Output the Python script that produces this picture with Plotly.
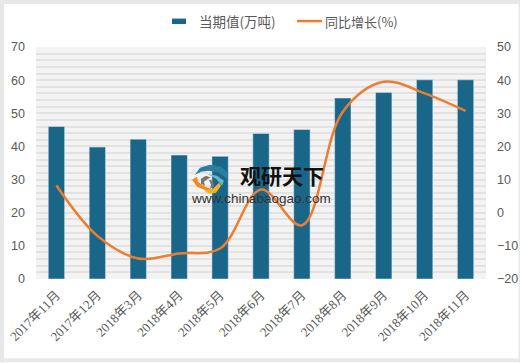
import plotly.graph_objects as go

categories = ["2017年11月", "2017年12月", "2018年3月", "2018年4月", "2018年5月", "2018年6月",
              "2018年7月", "2018年8月", "2018年9月", "2018年10月", "2018年11月"]
current_values = [46, 39.8, 42.2, 37.4, 37, 43.9, 45.1, 54.6, 56.3, 60.1, 60.1]
yoy_growth = [8.2, -7, -13.8, -12.3, -10.8, 7, -3.8, 30.5, 39.5, 36, 30.7]
bar_name = "当期值(万吨)"
line_name = "同比增长(%)"
wm_title = "观研天下"
wm_url = "www.chinabaogao.com"

W, H = 520, 363
L, R, T, B = 36, 486, 47, 279.5
BLUE, ORANGE, TXT = "#1a6688", "#ed7d31", "#595959"
CJK = "Noto Sans CJK SC"


def px(x):
    return (x - L) / (R - L)


def py(y):
    return (B - y) / (B - T)


def path(points):
    return "M" + " L".join(f"{px(x):.4f},{py(y):.4f}" for x, y in points) + " Z"


def box(x0, y0, x1, y1, color, layer="above", line=None):
    return dict(type="rect", xref="paper", yref="paper", x0=px(x0), x1=px(x1), y0=py(y1), y1=py(y0),
                fillcolor=color, line=dict(width=0), layer=layer)


fig = go.Figure()
fig.add_bar(x=categories, y=current_values, name=bar_name, marker_color=BLUE, width=0.4,
            showlegend=False, yaxis="y")
fig.add_scatter(x=categories, y=yoy_growth, name=line_name, mode="lines", yaxis="y2", showlegend=False,
                line=dict(color=ORANGE, width=2.5, shape="spline", smoothing=1.0))

shapes = [
    box(0, 0, W, 4, "#e8e8e8"), box(0, 359, W, H, "#e8e8e8"),
    box(0, 0, 4, H, "#e8e8e8"), box(518.5, 0, W, H, "#e8e8e8"),
    # legend keys
    box(172, 18.5, 186, 24, BLUE),
    dict(type="line", xref="paper", yref="paper", x0=px(297), x1=px(322), y0=py(21), y1=py(21),
         line=dict(color=ORANGE, width=2.5)),
    # watermark logo
    dict(type="path", xref="paper", yref="paper", fillcolor="#2b7f9e", line=dict(width=0),
         path=path([(195, 175), (200, 168), (210, 165), (221, 167), (228, 173), (227, 179),
                    (219, 173), (209, 171), (201, 172)])),
    dict(type="path", xref="paper", yref="paper", fillcolor="#6fb3c6", line=dict(width=0),
         path=path([(207, 174), (217, 176), (224, 181), (222, 186), (216, 179)])),
    dict(type="path", xref="paper", yref="paper", fillcolor="#f08a1d", line=dict(width=0),
         path=path([(192, 180), (197, 177), (198, 182), (205, 187), (214, 190), (207, 191), (197, 187)])),
    dict(type="path", xref="paper", yref="paper", fillcolor="#f5b323", line=dict(width=0),
         path=path([(204, 191), (213, 189), (219, 183), (221, 186), (216, 193), (209, 194)])),
    dict(type="path", xref="paper", yref="paper", fillcolor="#777777", line=dict(width=0),
         path=path([(201, 179), (206, 176), (211, 178), (208, 179), (204, 182), (205, 186), (201, 184)])),
    dict(type="path", xref="paper", yref="paper", fillcolor="#777777", line=dict(width=0),
         path=path([(209, 180), (213, 181), (214, 187), (210, 189), (211, 185)])),
]

annotations = [
    dict(text=bar_name, x=px(198), y=py(21), xanchor="left", font=dict(size=13.5, color=TXT, family=CJK)),
    dict(text=line_name, x=px(324), y=py(21), xanchor="left", font=dict(size=13, color=TXT, family=CJK)),
    dict(text=f"<b>{wm_title}</b>", x=px(281.5), y=py(175.5), font=dict(size=21, color="#111111", family=CJK)),
    dict(text=wm_url, x=px(260.5), y=py(199), font=dict(size=13.5, color="#333333", family="Liberation Sans")),
]
for a in annotations:
    a.update(xref="paper", yref="paper", showarrow=False, yanchor="middle", borderpad=0)

fig.update_layout(
    width=W, height=H, margin=dict(l=L, r=W - R, t=T, b=H - B, pad=0, autoexpand=False),
    paper_bgcolor="white", plot_bgcolor="#f3f3f3", bargap=0.6, showlegend=False,
    shapes=shapes, annotations=annotations,
    xaxis=dict(tickangle=-45, tickfont=dict(size=13, color=TXT, family=f"Liberation Serif, {CJK}"),
               showgrid=False, zeroline=False, showline=False, ticks="", ticklabelstandoff=5,
               automargin=False),
    yaxis=dict(range=[0, 70], dtick=10, tickfont=dict(size=12.5, color=TXT, family="Liberation Sans"),
               gridcolor="#e2e2e2", gridwidth=1.5, zeroline=False, showline=False, ticks="",
               ticklabelstandoff=10, automargin=False,
               minor=dict(dtick=2, showgrid=True, gridcolor="#e2e2e2", gridwidth=1.5)),
    yaxis2=dict(range=[-20, 50], dtick=10, overlaying="y", side="right", showgrid=False, zeroline=False,
                showline=False, ticks="", ticklabelstandoff=10, automargin=False,
                tickfont=dict(size=12.5, color=TXT, family="Liberation Sans")),
)
fig.write_html("out.html", config=dict(displayModeBar=False),
               post_script="document.body.style.margin='0';document.body.style.overflow='hidden';")
